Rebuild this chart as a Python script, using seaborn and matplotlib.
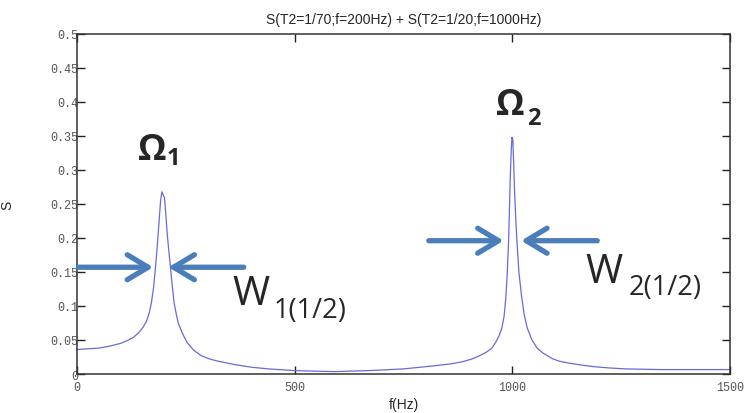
import numpy as np
import pandas as pd
import seaborn as sns
import matplotlib.pyplot as plt

# valores (frequencia em Hz, amplitude S)
freq = [0, 25, 50, 75, 100, 115, 130, 142, 152, 160, 166, 171, 176, 180, 184,
        188, 192, 195, 201, 204, 207, 211, 215, 219, 223, 228, 233, 242, 253,
        268, 285, 305, 323, 361, 400, 440, 500, 590, 670, 750, 820, 860, 885,
        907, 925, 940, 953, 963, 970, 976, 981, 985, 988, 991, 993, 995, 997,
        999, 1001, 1003, 1005, 1008, 1011, 1015, 1021, 1027, 1034, 1045, 1057,
        1070, 1092, 1107, 1130, 1160, 1184, 1220, 1260, 1340, 1420, 1500]
sinal = [0.036, 0.037, 0.038, 0.041, 0.045, 0.049, 0.054, 0.061, 0.069, 0.078,
         0.090, 0.105, 0.128, 0.155, 0.185, 0.220, 0.255, 0.268, 0.259, 0.235,
         0.208, 0.180, 0.155, 0.128, 0.105, 0.088, 0.074, 0.060, 0.046, 0.035,
         0.027, 0.022, 0.019, 0.014, 0.010, 0.0075, 0.005, 0.0035, 0.005,
         0.0075, 0.012, 0.015, 0.018, 0.022, 0.027, 0.032, 0.038, 0.048, 0.057,
         0.068, 0.085, 0.112, 0.145, 0.190, 0.235, 0.285, 0.322, 0.348, 0.345,
         0.310, 0.270, 0.225, 0.190, 0.150, 0.115, 0.088, 0.068, 0.050, 0.038,
         0.031, 0.0225, 0.019, 0.016, 0.013, 0.011, 0.009, 0.0075, 0.0065,
         0.0065, 0.0065]

x_ticks = [0, 500, 1000, 1500]
y_ticks = [0, 0.05, 0.1, 0.15, 0.2, 0.25, 0.3, 0.35, 0.4, 0.45, 0.5]
y_tick_labels = ['0', '0.05', '0.1', '0.15', '0.2', '0.25', '0.3', '0.35', '0.4', '0.45', '0.5']

titulo = 'S(T2=1/70;f=200Hz) + S(T2=1/20;f=1000Hz)'

df = pd.DataFrame({'f': freq, 'S': sinal})

sns.set_style('ticks')
plt.rcParams['font.family'] = ['Liberation Sans', 'DejaVu Sans']

fig = plt.figure(figsize=(7.52, 4.14), dpi=100)
ax = fig.add_axes([0.1024, 0.0942, 0.8684, 0.8213])

sns.lineplot(data=df, x='f', y='S', color='#6a6ad6', linewidth=0.9, ax=ax,
             estimator=None, sort=False)

ax.set_xlim(0, 1500)
ax.set_ylim(0, 0.5)
ax.set_xticks(x_ticks)
ax.set_xticklabels([str(t) for t in x_ticks])
ax.set_yticks(y_ticks)
ax.set_yticklabels(y_tick_labels)

for spine in ax.spines.values():
    spine.set_visible(True)
    spine.set_color('#333333')
    spine.set_linewidth(1.1)

ax.tick_params(direction='in', length=6, width=1, color='#222222',
               top=True, right=True, labelsize=8.5, labelcolor='#555555')
ax.tick_params(axis='y', pad=-1)
ax.tick_params(axis='x', pad=5)
for lab in ax.get_xticklabels() + ax.get_yticklabels():
    lab.set_family(['Liberation Mono', 'DejaVu Sans Mono'])

ax.set_title(titulo, fontsize=10, pad=8)
ax.set_xlabel('f(Hz)', fontsize=10, labelpad=3)
ax.set_ylabel('S', fontsize=10, labelpad=26)

# setas de largura a meia altura
azul = '#4a7ebb'
estilo = dict(arrowstyle='->,head_length=0.75,head_width=0.45', lw=3.8,
              color=azul, shrinkA=0, shrinkB=0, mutation_scale=20,
              capstyle='round', joinstyle='round')
ax.annotate('', xy=(175, 0.157), xytext=(3, 0.157), arrowprops=estilo,
            annotation_clip=False)
ax.annotate('', xy=(210, 0.157), xytext=(383, 0.157), arrowprops=estilo,
            annotation_clip=False)
ax.annotate('', xy=(980, 0.196), xytext=(808, 0.196), arrowprops=estilo,
            annotation_clip=False)
ax.annotate('', xy=(1020, 0.196), xytext=(1195, 0.196), arrowprops=estilo,
            annotation_clip=False)

fonte = ['Open Sans', 'DejaVu Sans']
ax.text(139, 0.316, 'Ω', fontsize=26, fontweight='bold', family=fonte, va='baseline')
ax.text(206, 0.309, '1', fontsize=17, fontweight='bold', family=fonte, va='baseline')
ax.text(962, 0.382, 'Ω', fontsize=26, fontweight='bold', family=fonte, va='baseline')
ax.text(1034, 0.368, '2', fontsize=17, fontweight='bold', family=fonte, va='baseline')

ax.text(358, 0.103, 'W', fontsize=29, family=fonte, va='baseline')
ax.text(452, 0.084, '1(1/2)', fontsize=19.5, family=fonte, va='baseline')
ax.text(1168, 0.135, 'W', fontsize=29, family=fonte, va='baseline')
ax.text(1266, 0.117, '2(1/2)', fontsize=19.5, family=fonte, va='baseline')

fig.savefig('out.png', dpi=100)
plt.close()
